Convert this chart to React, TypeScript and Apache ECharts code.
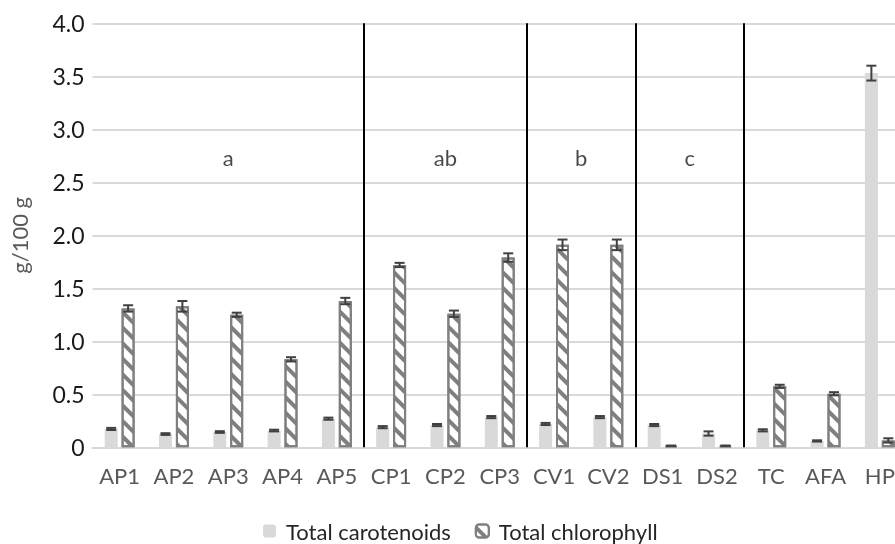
import React, { useEffect, useRef } from "react";
import * as echarts from "echarts";

const categories = ["AP1", "AP2", "AP3", "AP4", "AP5", "CP1", "CP2", "CP3", "CV1", "CV2", "DS1", "DS2", "TC", "AFA", "HP"];
const carotenoids = [0.173, 0.125, 0.144, 0.158, 0.27, 0.19, 0.21, 0.285, 0.22, 0.285, 0.21, 0.13, 0.16, 0.06, 3.53];
const carotenoidErr = [0.01, 0.008, 0.008, 0.008, 0.01, 0.01, 0.01, 0.01, 0.01, 0.01, 0.01, 0.02, 0.01, 0.006, 0.07];
const chlorophyll = [1.31, 1.33, 1.25, 0.83, 1.38, 1.72, 1.26, 1.79, 1.91, 1.91, 0.015, 0.015, 0.575, 0.505, 0.065];
const chlorophyllErr = [0.03, 0.05, 0.02, 0.02, 0.03, 0.02, 0.03, 0.04, 0.05, 0.05, 0, 0, 0.015, 0.015, 0.02];
const groupLabels = ["a", "ab", "b", "c"];
const groupPositions = [2.5, 6.5, 9, 11];
const groupLabelY = 2.73;
const separators = [5, 8, 10, 12];

const FONT = "Lato";
const BAR_W = 13;
const BAR_GAP = 0.3;

export default function App() {
  const ref = useRef<HTMLDivElement>(null);
  useEffect(() => {
    if (!ref.current) return;
    const chart = echarts.init(ref.current, null, { renderer: "svg" });
    const half = (BAR_W * 2 + BAR_W * BAR_GAP) / 2;
    const offsets = [-half + BAR_W / 2, half - BAR_W / 2];
    const errSeries = (vals: number[], errs: number[], idx: number) => ({
      type: "custom",
      name: "err" + idx,
      xAxisIndex: 0,
      yAxisIndex: 0,
      z: 5,
      silent: true,
      data: vals.map((v, i) => [i, v, errs[i]]),
      encode: { x: 0, y: 1 },
      renderItem: (params: any, api: any) => {
        const i = api.value(0);
        const v = api.value(1);
        const e = api.value(2);
        const top = api.coord([i, v + e]);
        const bot = api.coord([i, v - e]);
        const x = top[0] + offsets[idx];
        const cw = 5;
        const style = { stroke: "#404040", lineWidth: 2 };
        return {
          type: "group",
          children: [
            { type: "line", shape: { x1: x, y1: top[1], x2: x, y2: bot[1] }, style },
            { type: "line", shape: { x1: x - cw, y1: top[1], x2: x + cw, y2: top[1] }, style },
            { type: "line", shape: { x1: x - cw, y1: bot[1], x2: x + cw, y2: bot[1] }, style },
          ],
        };
      },
    });
    chart.setOption({
      animation: false,
      grid: { left: 92.5, right: -12, top: 23.3, bottom: 96.7, outerBoundsMode: "none" },
      legend: {
        left: 258,
        top: 515,
        itemWidth: 13,
        itemHeight: 13,
        itemGap: 24,
        data: ["Total carotenoids", "Total chlorophyll"],
        textStyle: { fontFamily: FONT, fontSize: 22, color: "#262626", padding: [0, 0, 0, 5] },
      },
      xAxis: [
        {
          type: "category",
          data: categories,
          axisLine: { show: true, lineStyle: { color: "#d9d9d9", width: 2 } },
          axisTick: { show: false },
          axisLabel: { fontFamily: FONT, fontSize: 22, color: "#595959", margin: 17, interval: 0 },
        },
        { type: "value", min: 0, max: 15, show: false },
      ],
      yAxis: {
        type: "value",
        min: 0,
        max: 4,
        interval: 0.5,
        name: "g/100 g",
        nameLocation: "middle",
        nameGap: 62,
        nameTextStyle: { fontFamily: FONT, fontSize: 22, color: "#595959" },
        axisLine: { show: false },
        axisTick: { show: false },
        splitLine: { lineStyle: { color: "#d9d9d9", width: 2 } },
        axisLabel: {
          fontFamily: FONT,
          fontSize: 23,
          color: "#1a1a1a",
          margin: 8,
          formatter: (v: number) => (v === 0 ? "0" : v.toFixed(1)),
        },
      },
      series: [
        {
          type: "bar",
          name: "Total carotenoids",
          data: carotenoids,
          barWidth: BAR_W,
          barGap: BAR_GAP * 100 + "%",
          itemStyle: { color: "#d9d9d9" },
        },
        {
          type: "bar",
          name: "Total chlorophyll",
          data: chlorophyll,
          barWidth: BAR_W,
          barGap: BAR_GAP * 100 + "%",
          itemStyle: {
            color: "#ffffff",
            borderColor: "#7f7f7f",
            borderWidth: 2,
            decal: {
              symbol: "rect",
              symbolSize: 1,
              color: "#7f7f7f",
              dashArrayX: [1, 0],
              dashArrayY: [4, 6.5],
              rotation: Math.PI / 4,
            },
          },
        },
        errSeries(carotenoids, carotenoidErr, 0),
        errSeries(chlorophyll, chlorophyllErr, 1),
        {
          type: "scatter",
          xAxisIndex: 1,
          yAxisIndex: 0,
          symbolSize: 0,
          silent: true,
          data: groupLabels.map((g, i) => ({ value: [groupPositions[i], groupLabelY], name: g })),
          label: {
            show: true,
            position: "inside",
            formatter: (p: any) => p.name,
            fontFamily: FONT,
            fontSize: 22,
            color: "#1a1a1a",
          },
          markLine: {
            silent: true,
            symbol: "none",
            label: { show: false },
            lineStyle: { color: "#000000", width: 2, type: "solid" },
            data: separators.map((s) => ({ xAxis: s })),
          },
        },
      ],
    });
    return () => chart.dispose();
  }, []);
  return <div ref={ref} style={{ position: "fixed", left: 0, top: 0, width: 895, height: 544 }} />;
}
